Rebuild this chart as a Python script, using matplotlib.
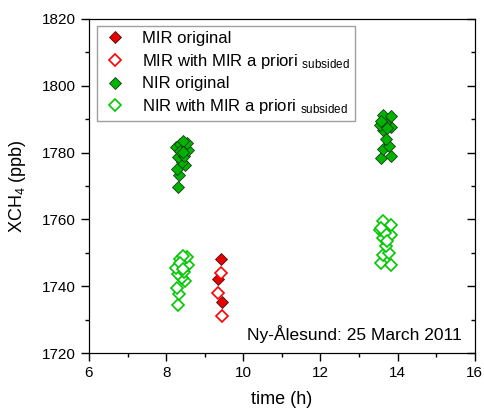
import matplotlib.pyplot as plt
from matplotlib.ticker import MultipleLocator

plt.rcParams['font.family'] = ['Liberation Sans', 'DejaVu Sans']
plt.rcParams['mathtext.fontset'] = 'custom'
plt.rcParams['mathtext.rm'] = 'Liberation Sans'
plt.rcParams['mathtext.it'] = 'Liberation Sans:italic'

# MIR retrievals
mir_t = [9.42, 9.35, 9.45]
mir_orig = [1748.0, 1742.2, 1735.2]
mir_sub = [1743.9, 1737.9, 1731.1]

# NIR retrievals (morning and afternoon)
nir_t = [8.31, 8.34, 8.27, 8.49, 8.40, 8.31, 8.46, 8.57, 8.25, 8.37, 8.55, 8.43,
         8.36, 8.44,
         13.58, 13.84, 13.62, 13.78, 13.71, 13.61, 13.82, 13.54, 13.67, 13.61,
         13.84, 13.58, 13.73]
nir_orig = [1769.8, 1773.3, 1775.0, 1776.3, 1777.3, 1778.8, 1779.0, 1780.8, 1781.8,
            1782.6, 1783.0, 1783.6, 1780.6, 1780.3,
            1778.3, 1779.1, 1781.1, 1782.1, 1784.1, 1786.8, 1787.8, 1788.3, 1788.8,
            1791.3, 1791.1, 1789.5, 1787.5]
nir_sub = [1734.4, 1737.7, 1739.6, 1741.6, 1742.4, 1743.6, 1744.4, 1746.3, 1745.4,
           1748.1, 1748.8, 1749.0, 1746.9, 1745.0,
           1746.9, 1746.3, 1749.3, 1750.0, 1752.0, 1754.3, 1755.3, 1756.8, 1755.8,
           1759.6, 1758.3, 1757.5, 1753.5]

fig = plt.figure(figsize=(4.85, 4.12), dpi=100)
ax = fig.add_axes([0.1835, 0.1432, 0.7955, 0.8107])

ms = 6
ax.plot(mir_t, mir_orig, 'D', ms=ms, mfc='#e80000', mec='#3a1a1a', mew=0.6,
        label='MIR original')
ax.plot(mir_t, mir_sub, 'D', ms=ms, mfc='white', mec='#ff0000', mew=1.2,
        label='MIR with MIR a priori $_{\\mathrm{subsided}}$')
ax.plot(nir_t, nir_orig, 'D', ms=ms, mfc='#00b400', mec='#1a3a1a', mew=0.6,
        label='NIR original')
ax.plot(nir_t, nir_sub, 'D', ms=ms, mfc='white', mec='#00c800', mew=1.2,
        label='NIR with MIR a priori $_{\\mathrm{subsided}}$')

ax.set_xlim(6, 16)
ax.set_ylim(1720, 1820)
ax.xaxis.set_major_locator(MultipleLocator(2))
ax.xaxis.set_minor_locator(MultipleLocator(1))
ax.yaxis.set_major_locator(MultipleLocator(20))
ax.yaxis.set_minor_locator(MultipleLocator(10))
ax.tick_params(which='major', direction='out', length=6, width=1, labelsize=11)
ax.tick_params(which='minor', direction='out', length=3, width=1)

ax2 = ax.twinx()
ax2.set_ylim(1720, 1820)
ax2.yaxis.set_major_locator(MultipleLocator(20))
ax2.yaxis.set_minor_locator(MultipleLocator(10))
ax2.tick_params(which='major', direction='in', length=6, width=1, labelright=False)
ax2.tick_params(which='minor', direction='in', length=3, width=1)

ax.set_xlabel('time (h)', fontsize=13, labelpad=8)
ax.set_ylabel('XCH$_4$ (ppb)', fontsize=13, labelpad=10)

ax.text(0.965, 0.03, 'Ny-Ålesund: 25 March 2011', transform=ax.transAxes,
        ha='right', va='bottom', fontsize=12.5)

leg = ax.legend(loc='upper left', bbox_to_anchor=(0.02, 0.98), fontsize=12,
                frameon=True, fancybox=False, edgecolor='#888888',
                handletextpad=0.8, labelspacing=0.35, borderpad=0.3,
                handlelength=1.6, borderaxespad=0)
leg.get_frame().set_linewidth(1.0)

fig.savefig('out.png', dpi=100)
